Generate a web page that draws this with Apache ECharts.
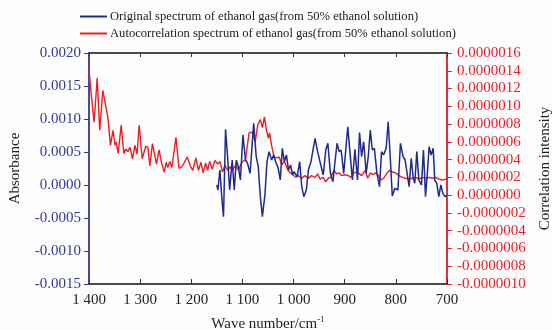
<!DOCTYPE html>
<html>
<head>
<meta charset="utf-8">
<script src="https://cdn.jsdelivr.net/npm/echarts@6/dist/echarts.min.js"></script>
<style>html,body{margin:0;padding:0;background:#fdfdfd}#c{width:552px;height:330px}</style>
</head>
<body>
<div id="c"></div>
<script>
var FONT = "'Liberation Serif','Times New Roman',serif";

var xTicks = [1400, 1300, 1200, 1100, 1000, 900, 800, 700];
var leftTicks = [-0.0015, -0.001, -0.0005, 0, 0.0005, 0.001, 0.0015, 0.002];
var rightTicks = [-0.000001, 0.0000016];

var seriesNames = [
  'Original spectrum of ethanol gas(from 50% ethanol solution)',
  'Autocorrelation spectrum of ethanol gas(from 50% ethanol solution)'
];

// Autocorrelation spectrum (right axis)
var redWave = [1400,1396,1393,1390,1384,1379,1376,1373,1370,1367,1363,1358,1353,1349,1347,1343,1337,1332,1328,1324,1320,1315,1310,1306,1302,1296,1289,1285,1281,1276,1268,1263,1258,1253,1249,1246,1242,1238,1230,1224,1218,1208,1202,1197,1191,1186,1181,1177,1172,1168,1164,1159,1154,1148,1144,1139,1134,1129,1124,1120,1113,1108,1101,1094,1087,1081,1075,1070,1065,1061,1057,1053,1049,1047,1043,1038,1032,1028,1023,1018,1011,1006,1001,996,991,984,978,971,965,958,953,948,942,937,932,927,921,916,911,906,899,893,888,882,877,873,867,860,855,850,845,839,834,829,824,817,812,807,800,794,787,781,774,768,761,755,748,742,735,729,722,716,709,703,700];
var redValue = [14.1e-7,11.5e-7,11.6e-7,8.2e-7,13.2e-7,7.3e-7,7.3e-7,11.8e-7,10.9e-7,11.0e-7,8.7e-7,5.6e-7,7.3e-7,5.6e-7,6.0e-7,4.7e-7,7.9e-7,4.7e-7,5.2e-7,4.9e-7,5.4e-7,4.1e-7,5.6e-7,4.6e-7,7.9e-7,4.1e-7,5.5e-7,5.4e-7,3.3e-7,5.8e-7,3.5e-7,5.1e-7,3.6e-7,2.6e-7,3.7e-7,3.1e-7,3.8e-7,3.1e-7,6.5e-7,3.0e-7,3.2e-7,4.3e-7,3.3e-7,2.8e-7,4.2e-7,2.8e-7,3.7e-7,2.5e-7,3.6e-7,2.8e-7,3.8e-7,2.9e-7,3.9e-7,3.5e-7,3.8e-7,2.6e-7,3.4e-7,2.8e-7,3.2e-7,2.8e-7,3.4e-7,2.8e-7,3.7e-7,4.0e-7,7.0e-7,7.1e-7,6.0e-7,7.9e-7,8.5e-7,7.6e-7,8.8e-7,7.3e-7,6.4e-7,7.0e-7,5.6e-7,4.3e-7,4.2e-7,4.3e-7,3.4e-7,3.8e-7,2.8e-7,2.5e-7,2.3e-7,2.0e-7,2.2e-7,1.9e-7,2.2e-7,1.9e-7,2.2e-7,2.0e-7,2.4e-7,1.8e-7,2.0e-7,1.5e-7,1.9e-7,2.0e-7,2.8e-7,2.4e-7,2.5e-7,2.2e-7,2.3e-7,2.2e-7,2.0e-7,2.5e-7,2.6e-7,2.5e-7,2.2e-7,2.8e-7,1.9e-7,2.5e-7,2.3e-7,2.5e-7,2.2e-7,1.7e-7,1.9e-7,2.5e-7,2.8e-7,2.6e-7,2.5e-7,2.2e-7,2.0e-7,1.9e-7,1.8e-7,1.9e-7,2.0e-7,1.8e-7,2.0e-7,1.9e-7,2.0e-7,1.9e-7,2.0e-7,1.8e-7,1.7e-7,1.8e-7,1.8e-7];

// Original spectrum (left axis)
var blueWave = [1150,1148,1144,1140,1137,1133,1129,1125,1120,1116,1112,1108,1104,1099,1094,1090,1085,1078,1073,1069,1065,1061,1056,1052,1048,1043,1039,1035,1030,1026,1022,1018,1014,1010,1006,1002,999,993,988,984,980,975,971,966,958,953,946,942,937,933,928,923,919,915,911,907,902,894,889,885,880,875,871,867,863,858,854,850,846,842,837,832,828,824,819,815,811,807,802,796,791,786,782,778,774,770,766,763,759,755,750,746,742,738,735,731,727,724,720,716,712,708,704,700];
var blueValue = [0,-0.000076,0.000227,-0.000227,-0.00048,0.000844,0.000429,-0.000076,0.000379,-0.000076,0.000379,0.000277,0.000076,0.000758,0.000379,0.000329,0.000177,0.000935,0.000429,0.000277,-0.000177,-0.00048,-0.00015,0.00035,0.000505,0.000379,0.000455,0.000353,0.000253,0.000076,0.000556,0.000353,0.000455,0.000227,0.000303,0.000152,0.000202,0.000126,0.000353,-0.000026,-0.000177,-0.000076,0.000227,0.000353,0.000708,0.000505,0.000277,0.000152,0.00053,0.000632,0.000177,0.00005,0.000353,0.000632,0.000505,0.00053,0.000177,0.000883,0.000429,0.000076,0.00054,0.000076,0.000795,0.000429,0.000656,0.000177,0.000429,0.000833,0.00053,0.000556,0.000177,-0.000026,0.000505,0.000455,0.000556,0.000959,0.000429,-0.000167,-0.00005,-0.000076,0.000632,0.000429,0.000379,0.000177,-0.000026,0.000405,0.000102,0.000026,0.000505,0.000076,0,0.00053,-0.000177,0.000227,0.00058,0.000455,0.000556,0.000076,0.000026,-0.000177,0,-0.000126,-0.000177,-0.000152];

function zip(a, b) { var r = []; for (var i = 0; i < a.length; i++) r.push([a[i], b[i]]); return r; }

var BLUE_AX = '#34389c';
var RED_AX = '#ee1c24';
var BLUE_LINE = '#1e2a8c';
var RED_LINE = '#ee1c24';

var chart = echarts.init(document.getElementById('c'), null, {renderer: 'canvas'});
chart.setOption({
  backgroundColor: '#fdfdfd',
  animation: false,
  textStyle: {fontFamily: FONT},
  legend: {
    orient: 'vertical', left: 75, top: 5, itemGap: 4, padding: 5,
    itemWidth: 27, itemHeight: 2, icon: 'rect',
    textStyle: {fontFamily: FONT, fontSize: 12.6, color: '#222', padding: [0, 0, 0, -2]},
    data: seriesNames
  },
  grid: {left: 89, right: 105, top: 53, bottom: 46, containLabel: false, outerBoundsMode: 'none',
    show: true, borderColor: '#333', borderWidth: 1.2, backgroundColor: 'transparent'},
  xAxis: [{
    type: 'value', min: xTicks[xTicks.length - 1], max: xTicks[0], interval: 100, inverse: true,
    position: 'bottom',
    name: 'Wave number/cm{sup|-1}', nameLocation: 'middle', nameGap: 31,
    nameTextStyle: {fontFamily: FONT, fontSize: 15, color: '#222',
      rich: {sup: {fontFamily: FONT, fontSize: 9, color: '#222', verticalAlign: 'top', padding: [0, 0, 9, 0]}}},
    axisLine: {onZero: false, lineStyle: {color: '#333', width: 1.5}},
    axisTick: {inside: true, length: 5, lineStyle: {color: '#333', width: 1}},
    axisLabel: {margin: 9, fontFamily: FONT, fontSize: 15, color: '#222',
      formatter: function (v) { return v >= 1000 ? Math.floor(v / 1000) + ' ' + String(v % 1000).padStart(3, '0') : String(v); }},
    splitLine: {show: false}
  }, {
    type: 'value', min: xTicks[xTicks.length - 1], max: xTicks[0], interval: 100, inverse: true,
    position: 'top',
    axisLine: {show: true, onZero: false, lineStyle: {color: '#333', width: 1.5}},
    axisTick: {show: true, inside: true, length: 4, lineStyle: {color: '#333', width: 1}},
    axisLabel: {show: false},
    splitLine: {show: false}
  }],
  yAxis: [{
    type: 'value', min: leftTicks[0], max: leftTicks[leftTicks.length - 1], interval: 0.0005,
    position: 'left',
    name: 'Absorbance', nameLocation: 'middle', nameGap: 66,
    nameTextStyle: {fontFamily: FONT, fontSize: 15, color: '#222'},
    axisLine: {show: true, onZero: false, lineStyle: {color: BLUE_AX, width: 1.5}},
    axisTick: {show: true, length: 5, lineStyle: {color: BLUE_AX}},
    axisLabel: {margin: 8, fontFamily: FONT, fontSize: 15, color: BLUE_AX,
      formatter: function (v) { return v.toFixed(4); }},
    splitLine: {show: false}
  }, {
    type: 'value', min: rightTicks[0], max: rightTicks[1], interval: 0.0000002,
    position: 'right',
    name: 'Correlation intensity', nameLocation: 'middle', nameGap: 91,
    nameTextStyle: {fontFamily: FONT, fontSize: 15, color: '#222'},
    axisLine: {show: true, onZero: false, lineStyle: {color: RED_AX, width: 1.5}},
    axisTick: {show: true, length: 5, lineStyle: {color: RED_AX}},
    axisLabel: {margin: 10, fontFamily: FONT, fontSize: 15, color: RED_AX,
      formatter: function (v) { return v.toFixed(7); }},
    splitLine: {show: false}
  }],
  series: [{
    name: seriesNames[0], type: 'line', xAxisIndex: 0, yAxisIndex: 0,
    data: zip(blueWave, blueValue), symbol: 'none', z: 3,
    lineStyle: {color: BLUE_LINE, width: 1.5}, itemStyle: {color: BLUE_LINE}
  }, {
    name: seriesNames[1], type: 'line', xAxisIndex: 0, yAxisIndex: 1,
    data: zip(redWave, redValue), symbol: 'none', z: 2,
    lineStyle: {color: RED_LINE, width: 1.4}, itemStyle: {color: RED_LINE}
  }]
});
</script>
</body>
</html>
